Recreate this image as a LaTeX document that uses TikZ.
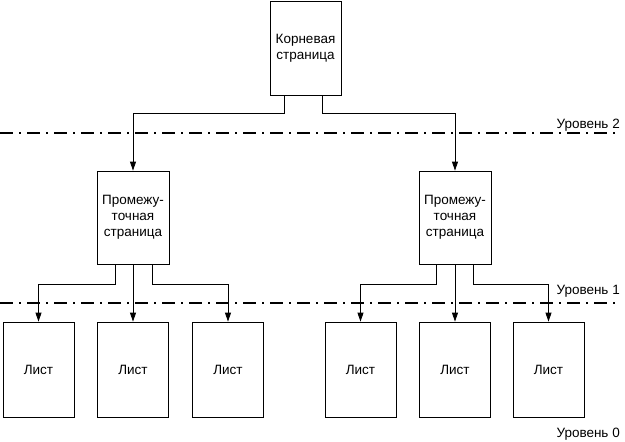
\documentclass[tikz,border=0pt]{standalone}
\usepackage{fontspec}
\setmainfont{Liberation Sans}
\usetikzlibrary{arrows.meta}
\begin{document}
\begin{tikzpicture}[x=1pt,y=-1pt,
  font=\fontsize{13.5}{16}\selectfont,
  pagebox/.style={draw, line width=0.8pt, align=center, inner sep=2pt},
  rootbox/.style={pagebox, minimum width=71pt, minimum height=94pt},
  midbox/.style={pagebox, minimum width=72pt, minimum height=93pt},
  leafbox/.style={pagebox, minimum width=71pt, minimum height=95pt},
  link/.style={line width=0.8pt, -{Triangle[length=9pt,width=6pt]}},
  levelline/.style={line width=1.5pt, dash pattern=on 13pt off 6pt on 1.5pt off 6.5pt},
  levellabel/.style={anchor=base east, inner sep=0pt}
]
\useasboundingbox (0,0) rectangle (625,442);

% level lines
\coordinate (l2a) at (0,133);
\coordinate (l2b) at (620,133);
\coordinate (l1a) at (0,303);
\coordinate (l1b) at (620,303);
\draw[levelline] (l2a) -- (l2b);
\draw[levelline] (l1a) -- (l1b);
\node[levellabel] (lab2) at (620,128) {Уровень 2};
\node[levellabel] (lab1) at (620,294) {Уровень 1};
\node[levellabel] (lab0) at (620,437) {Уровень 0};

% boxes
\node[rootbox] (root) at (305.5,48) {Корневая\\страница};
\node[midbox] (m1) at (133,217.5) {Промежу-\\точная\\страница};
\node[midbox] (m2) at (455,217.5) {Промежу-\\точная\\страница};

\node[leafbox] (a1) at (38.5,369.5) {Лист};
\node[leafbox] (a2) at (133,369.5) {Лист};
\node[leafbox] (a3) at (228,369.5) {Лист};
\node[leafbox] (b1) at (360.5,369.5) {Лист};
\node[leafbox] (b2) at (455,369.5) {Лист};
\node[leafbox] (b3) at (548.5,369.5) {Лист};

% connectors root -> mid
\draw[link] ([xshift=-21pt]root.south) -- ++(0,18) -| (m1.north);
\draw[link] ([xshift=16.5pt]root.south) -- ++(0,18) -| (m2.north);

% mid -> leaves
\draw[link] ([xshift=-18pt]m1.south) -- ++(0,20) -| (a1.north);
\draw[link] (m1.south) -- (a2.north);
\draw[link] ([xshift=19pt]m1.south) -- ++(0,20) -| (a3.north);

\draw[link] ([xshift=-19pt]m2.south) -- ++(0,20) -| (b1.north);
\draw[link] (m2.south) -- (b2.north);
\draw[link] ([xshift=18pt]m2.south) -- ++(0,20) -| (b3.north);
\end{tikzpicture}
\end{document}
